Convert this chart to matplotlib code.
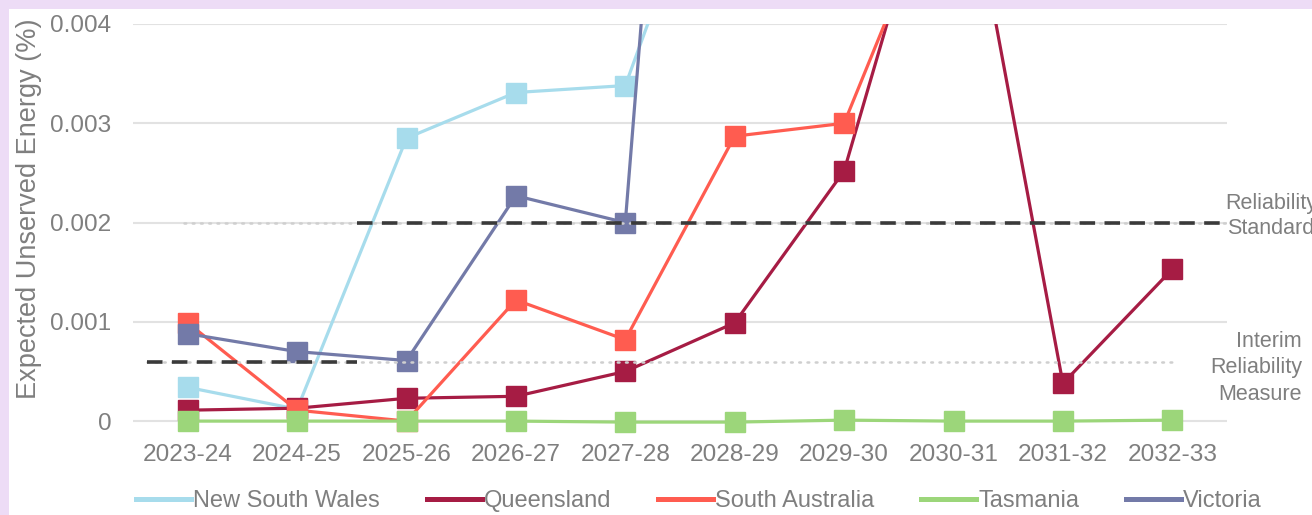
import numpy as np
import matplotlib.pyplot as plt
from matplotlib.patches import Rectangle

plt.rcParams["font.family"] = ["Liberation Sans", "DejaVu Sans"]

years = ["2023-24", "2024-25", "2025-26", "2026-27", "2027-28",
         "2028-29", "2029-30", "2030-31", "2031-32", "2032-33"]

# expected unserved energy (%), values above 0.004 run off the top of the chart
nsw = [0.00034, 0.00012, 0.00285, 0.00331, 0.00338, 0.0064, 0.0080, 0.0090, 0.0085, 0.0095]
qld = [0.00011, 0.00013, 0.00023, 0.00025, 0.00050, 0.00099, 0.00252, 0.0063, 0.00038, 0.00153]
sa = [0.00099, 0.00011, 0.0, 0.00122, 0.00082, 0.00287, 0.00300, 0.0057, 0.0061, 0.0058]
tas = [0.0, 0.0, 0.0, 0.0, -0.00001, -0.00001, 0.00001, 0.0, 0.0, 0.00001]
vic = [0.00088, 0.00070, 0.00061, 0.00227, 0.00200, 0.0158, 0.0170, 0.0160, 0.0150, 0.0165]

reliability_standard = 0.002
interim_measure = 0.0006

series = [
    ("New South Wales", nsw, "#a7dcec"),
    ("Queensland", qld, "#a61c44"),
    ("South Australia", sa, "#ff5c50"),
    ("Tasmania", tas, "#9cd67a"),
    ("Victoria", vic, "#737aa8"),
]

grey = "#7f7f7f"
W, H = 1312, 515

fig = plt.figure(figsize=(W / 100, H / 100), dpi=100, facecolor="#eddcf6")
# white chart area, lavender strip on the left and top
fig.patches.append(Rectangle((9 / W, 0), 1, 1 - 9 / H, transform=fig.transFigure,
                             facecolor="white", edgecolor="none", zorder=-10))

ax = fig.add_axes([133 / W, (H - 436) / H, 1094 / W, 412 / H])
ax.set_facecolor("none")

x = np.arange(len(years))
for name, vals, color in series:
    ax.plot(x, vals, color=color, lw=2.3, marker="s", markersize=14,
            markeredgecolor=color, label=name, zorder=3)

# reference lines
ax.plot([-0.03, 9.5], [reliability_standard] * 2, color="#cfcfcf", lw=1.8,
        ls=(0, (0.7, 2.6)), dash_capstyle="round", zorder=5)
ax.plot([1.55, 9.5], [reliability_standard] * 2, color="#3a3a3a", lw=2.6,
        ls=(0, (4.3, 2.6)), zorder=6)
ax.plot([-0.37, 9.0], [interim_measure] * 2, color="#cfcfcf", lw=1.8,
        ls=(0, (0.7, 2.6)), dash_capstyle="round", zorder=5)
ax.plot([-0.37, 1.55], [interim_measure] * 2, color="#3a3a3a", lw=2.6,
        ls=(0, (4.3, 2.6)), zorder=6)

ax.set_xlim(-0.5, 9.5)
ax.set_ylim(-0.00015, 0.004)
ax.set_yticks([0, 0.001, 0.002, 0.003, 0.004])
ax.set_yticklabels(["0", "0.001", "0.002", "0.003", "0.004"])
ax.set_xticks(x)
ax.set_xticklabels(years)
ax.grid(axis="y", color="#e2e2e2", lw=1.5, zorder=1)
ax.set_axisbelow(True)
for s in ax.spines.values():
    s.set_visible(False)
ax.tick_params(length=0, labelsize=17.6, colors=grey)
ax.tick_params(axis="y", pad=15.5)
ax.tick_params(axis="x", pad=6)

ax.set_ylabel("Expected Unserved Energy (%)", fontsize=19.5, color=grey)
ax.yaxis.set_label_coords(-0.083, 0.552)

fig.text(1271 / W, (H - 216) / H, "Reliability\nStandard", ha="center", va="center",
         fontsize=15.5, color=grey, linespacing=1.3)
fig.text(1302 / W, (H - 368) / H, "Interim\nReliability\nMeasure", ha="right", va="center",
         fontsize=15.5, color=grey, linespacing=1.35)

leg = fig.legend(loc="center", bbox_to_anchor=(699 / W, (H - 501) / H), ncol=5,
                 frameon=False, fontsize=17, handlelength=2.33, handletextpad=0.1,
                 columnspacing=1.97, labelcolor=grey, borderpad=0)
for h in leg.legend_handles:
    h.set_marker("")
    h.set_linewidth(3.6)

fig.savefig("out.png", dpi=100, facecolor=fig.get_facecolor())
